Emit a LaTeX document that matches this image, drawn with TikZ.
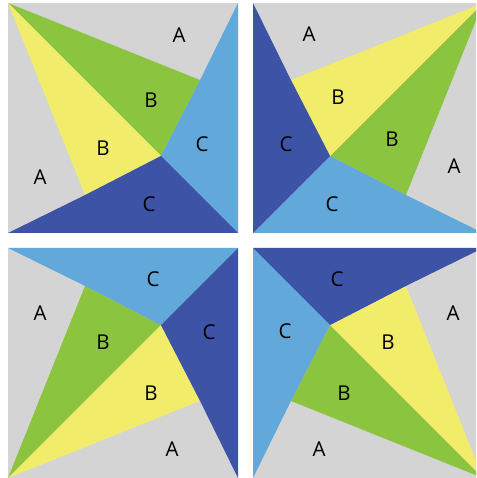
\documentclass[tikz,border=0pt]{standalone}
\usepackage{fontspec}
\setmainfont{Open Sans}
\usepackage{xcolor}
\usepackage{tikz}

\definecolor{patchgray}{HTML}{D4D4D4}
\definecolor{patchgreen}{HTML}{8BC43F}
\definecolor{patchyellow}{HTML}{F2EC6B}
\definecolor{patchsky}{HTML}{62A8DA}
\definecolor{patchnavy}{HTML}{3D53A5}

\begin{document}
\begin{tikzpicture}[
    x=1pt, y=1pt,
    patch/.style={fill=#1, draw=none},
    lbl/.style={font=\fontsize{20.5}{24}\selectfont, inner sep=0pt},
]
\useasboundingbox (0,0) rectangle (476,478);
\clip (0,0) rectangle (476,478);

% Four blocks, each one the previous one turned a quarter
\foreach \kx/\ky/\ux/\uy/\vx/\vy/\n in {
    8/475/230/0/0/-230/tl,
    483/475/0/-230/-230/0/tr,
    483/0/-230/0/0/230/br,
    8/0/0/230/230/0/bl} {
\begin{scope}[shift={(\kx,\ky)}, x={(\ux pt,\uy pt)}, y={(\vx pt,\vy pt)}]
    \coordinate (k-\n) at (0,0);
    \coordinate (ua-\n) at (1,0);
    \coordinate (vb-\n) at (0,1);
    \coordinate (far-\n) at (1,1);
    \coordinate (hub-\n) at (0.665,0.665);
    \coordinate (p1-\n) at (0.835,0.335);
    \coordinate (p2-\n) at (0.335,0.835);

    % background (A pieces)
    \path[patch=patchgray] (k-\n) -- (ua-\n) -- (far-\n) -- (vb-\n) -- cycle;
    % B pieces
    \path[patch=patchgreen] (k-\n) -- (p1-\n) -- (hub-\n) -- cycle;
    \path[patch=patchyellow] (k-\n) -- (hub-\n) -- (p2-\n) -- cycle;
    % C pieces
    \path[patch=patchsky] (ua-\n) -- (far-\n) -- (hub-\n) -- (p1-\n) -- cycle;
    \path[patch=patchnavy] (vb-\n) -- (p2-\n) -- (hub-\n) -- (far-\n) -- cycle;
\end{scope}
}

% Labels
\foreach \x/\y/\t/\n in {
    179/443/A/tla1, 40/301/A/tla2, 151/378/B/tlb1, 103/330/B/tlb2,
    202/334/C/tlc1, 149/274/C/tlc2,
    309/444/A/tra1, 454/312/A/tra2, 338/381/B/trb1, 392/339/B/trb2,
    286/334/C/trc1, 332/274/C/trc2,
    40/165/A/bla1, 172/29/A/bla2, 103/136/B/blb1, 151/85/B/blb2,
    153/199/C/blc1, 209/146/C/blc2,
    453/165/A/bra1, 319/29/A/bra2, 388/136/B/brb1, 344/85/B/brb2,
    337/199/C/brc1, 285/147/C/brc2} {
    \node[lbl] (\n) at (\x,\y) {\t};
}
\end{tikzpicture}
\end{document}
